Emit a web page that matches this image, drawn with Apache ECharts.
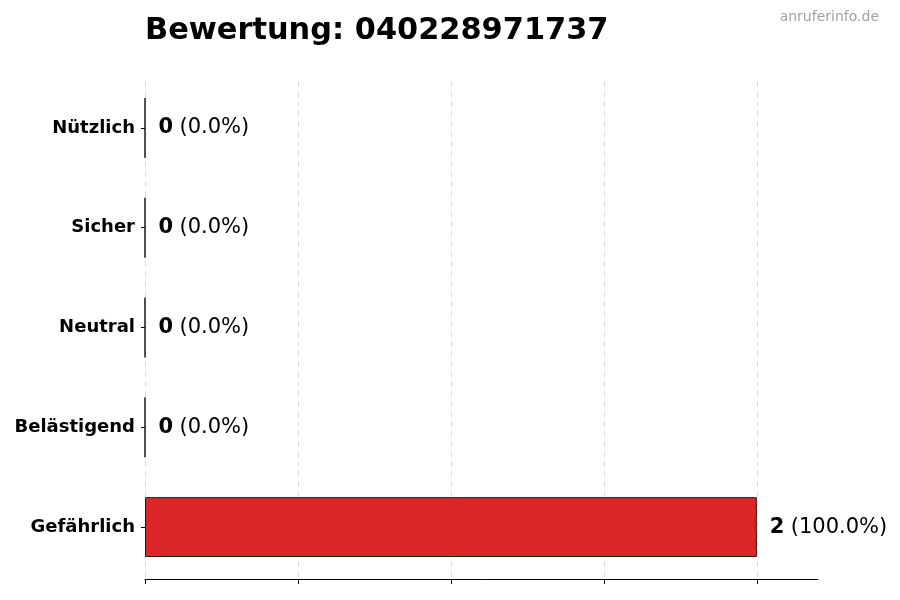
<!DOCTYPE html>
<html><head><meta charset="utf-8">
<script src="https://cdn.jsdelivr.net/npm/echarts@6/dist/echarts.min.js"></script>
<style>html,body{margin:0;padding:0;background:#fff}#c{width:900px;height:600px}</style>
</head><body><div id="c"></div>
<script>
const categories = ['Gefährlich', 'Belästigend', 'Neutral', 'Sicher', 'Nützlich'];
const counts = [2, 0, 0, 0, 0];
const percents = [100.0, 0.0, 0.0, 0.0, 0.0];
const xTicks = [0, 0.5, 1, 1.5, 2];
const titleText = 'Bewertung: 040228971737';
const watermark = 'anruferinfo.de';

const font = 'DejaVu Sans';
const chart = echarts.init(document.getElementById('c'), null, {renderer: 'canvas'});
chart.setOption({
  animation: false,
  backgroundColor: '#ffffff',
  title: [{
    text: titleText, left: 145, top: 16, padding: 0,
    textStyle: {fontFamily: font, fontSize: 30.4, fontWeight: 'bold', color: '#000'}
  }, {
    text: watermark, right: 21, top: 10, padding: 0,
    textStyle: {fontFamily: font, fontSize: 14, fontWeight: 'normal', color: '#a0a0a0'}
  }],
  grid: {left: 145, right: 82, top: 78, bottom: 23, containLabel: false},
  xAxis: {
    type: 'value', min: 0, max: 2.2, offset: 2,
    axisLine: {show: true, lineStyle: {color: '#000', width: 1}},
    axisTick: {show: true, length: 5, lineStyle: {color: '#000'}, customValues: xTicks},
    axisLabel: {show: false},
    splitLine: {show: false}
  },
  yAxis: {
    type: 'category', data: categories,
    axisLine: {show: false},
    axisTick: {show: true, length: 4, alignWithLabel: true, lineStyle: {color: '#000'}},
    axisLabel: {fontFamily: font, fontSize: 18, fontWeight: 'bold', color: '#000', margin: 10}
  },
  series: [{
    type: 'bar',
    data: counts,
    barWidth: '60%',
    itemStyle: {color: '#dc2626', borderColor: '#1a1a1a', borderWidth: 1},
    label: {
      show: true, position: 'right', distance: 13,
      formatter: p => '{b|' + counts[p.dataIndex] + '} {n|(' + percents[p.dataIndex].toFixed(1) + '%)}',
      rich: {
        b: {fontFamily: font, fontSize: 21, fontWeight: 'bold', color: '#000'},
        n: {fontFamily: font, fontSize: 21, color: '#000', padding: [0, 0, 0, 3]}
      }
    },
    markLine: {
      silent: true, symbol: 'none', label: {show: false},
      lineStyle: {type: [6, 4], color: '#d4d4d4', width: 0.8},
      z: 0,
      data: xTicks.map(v => ({xAxis: v}))
    }
  }]
});
</script></body></html>
